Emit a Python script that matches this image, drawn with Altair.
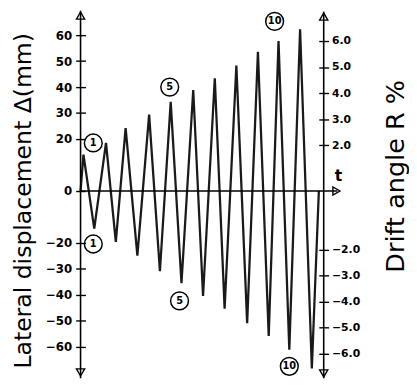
import altair as alt
import pandas as pd

# peaks of the loading history (time in half-cycle units, displacement in mm)
t_pos = [0.27, 2.36, 4.18, 6.36, 8.36, 10.45, 12.45, 14.45, 16.45, 18.36, 20.36]
d_pos = [14.0, 18.5, 24.2, 29.4, 34.3, 38.9, 43.4, 48.3, 53.6, 57.7, 62.3]
t_neg = [1.27, 3.27, 5.27, 7.36, 9.36, 11.36, 13.36, 15.45, 17.45, 19.36, 21.45]
d_neg = [-14.5, -19.6, -24.9, -30.9, -35.5, -40.4, -45.3, -50.9, -55.8, -61.1, -68.3]
t_start, t_end = 0.0, 22.1

left_ticks = [60, 50, 40, 30, 20, 0, -20, -30, -40, -50, -60]
right_ticks = [6.0, 5.0, 4.0, 3.0, 2.0, -2.0, -3.0, -4.0, -5.0, -6.0]

# cycle labels (circled numbers)
lab_text = ["1", "1", "5", "5", "10", "10"]
lab_t = [1.18, 1.18, 8.27, 9.18, 18.0, 19.36]
lab_d = [18.5, -20.4, 40.0, -42.3, 65.3, -67.5]

rows = [{"t": t_start, "d": 0.0, "o": 0}]
o = 1
for tp, dp, tn, dn in zip(t_pos, d_pos, t_neg, d_neg):
    rows.append({"t": tp, "d": dp, "o": o}); o += 1
    rows.append({"t": tn, "d": dn, "o": o}); o += 1
rows.append({"t": t_end, "d": 0.0, "o": o})
df = pd.DataFrame(rows)
df_lab = pd.DataFrame({"t": lab_t, "d": lab_d, "txt": lab_text})

W, H = 248, 368
FONT = "DejaVu Sans"
Y_DOM = [-70.6, 68.3]
xs = alt.Scale(domain=[0, 22.55], nice=False, zero=False)
ys = alt.Scale(domain=Y_DOM, nice=False, zero=False)

line = alt.Chart(df).mark_line(color="#1a1a1a", strokeWidth=2.3).encode(
    x=alt.X("t:Q", scale=xs, axis=None),
    y=alt.Y("d:Q", scale=ys, axis=None),
    order="o:Q",
)

base0 = alt.Chart(pd.DataFrame({"d": [0.0]}))
hline = base0.mark_rule(color="black", strokeWidth=1.5).encode(
    x=alt.value(0), x2=alt.value(262), y=alt.Y("d:Q", scale=ys, axis=None))
harrow = base0.mark_point(shape="triangle-right", filled=False, size=70,
                          color="black", strokeWidth=1.4, opacity=1).encode(
    x=alt.value(261), y=alt.Y("d:Q", scale=ys, axis=None))

circles = alt.Chart(df_lab).mark_point(shape="circle", filled=False, size=330,
                                       color="black", strokeWidth=1.5, opacity=1).encode(
    x=alt.X("t:Q", scale=xs, axis=None), y=alt.Y("d:Q", scale=ys, axis=None))
circ_txt = alt.Chart(df_lab).mark_text(font=FONT, fontWeight="bold", fontSize=10,
                                       color="black").encode(
    x=alt.X("t:Q", scale=xs, axis=None), y=alt.Y("d:Q", scale=ys, axis=None),
    text="txt:N")

one = alt.Chart(pd.DataFrame({"a": [0]}))
vl = one.mark_rule(color="black", strokeWidth=1.6).encode(
    x=alt.value(0), y=alt.value(-3), y2=alt.value(372))
vr = one.mark_rule(color="black", strokeWidth=1.6).encode(
    x=alt.value(W), y=alt.value(-2), y2=alt.value(372))
arrows = [
    one.mark_point(shape="triangle-up", filled=False, size=70, color="black",
                   strokeWidth=1.4, opacity=1).encode(x=alt.value(0), y=alt.value(2)),
    one.mark_point(shape="triangle-down", filled=False, size=70, color="black",
                   strokeWidth=1.4, opacity=1).encode(x=alt.value(0), y=alt.value(366)),
    one.mark_point(shape="triangle-up", filled=False, size=70, color="black",
                   strokeWidth=1.4, opacity=1).encode(x=alt.value(W), y=alt.value(3)),
    one.mark_point(shape="triangle-down", filled=False, size=70, color="black",
                   strokeWidth=1.4, opacity=1).encode(x=alt.value(W), y=alt.value(367)),
]
t_label = one.mark_text(text="t", font=FONT, fontWeight="bold", fontSize=16,
                        color="black").encode(x=alt.value(263), y=alt.value(166))
left_title = one.mark_text(text="Lateral displacement Δ(mm)", font=FONT, fontSize=24,
                           angle=270, align="center", baseline="middle",
                           color="black").encode(x=alt.value(-58), y=alt.value(191))
right_title = one.mark_text(text="Drift angle R %", font=FONT, fontSize=26,
                            angle=270, align="center", baseline="middle",
                            color="black").encode(x=alt.value(322), y=alt.value(166))

content = alt.layer(line, hline, harrow, circles, circ_txt, vl, vr, *arrows,
                    t_label, left_title, right_title)

left_axis_layer = alt.Chart(pd.DataFrame({"D": left_ticks})).mark_point(opacity=0).encode(
    y=alt.Y("D:Q", scale=alt.Scale(domain=Y_DOM, nice=False, zero=False),
            axis=alt.Axis(values=left_ticks, orient="left", domain=False, grid=False,
                          tickSize=10, offset=-5, tickColor="black", tickWidth=1.4,
                          labelFont=FONT, labelFontWeight="bold", labelFontSize=12,
                          labelColor="black", labelPadding=4, labelOverlap=False,
                          title=None)),
    x=alt.value(0),
)

right_axis_layer = alt.Chart(pd.DataFrame({"R": right_ticks})).mark_point(opacity=0).encode(
    y=alt.Y("R:Q", scale=alt.Scale(domain=[-6.79, 7.05], nice=False, zero=False),
            axis=alt.Axis(values=right_ticks, orient="right", format=".1f", domain=False,
                          grid=False, tickSize=10, offset=-5, tickColor="black",
                          tickWidth=1.4, labelFont=FONT, labelFontWeight="bold",
                          labelFontSize=11, labelColor="black", labelPadding=3,
                          labelOverlap=False, title=None)),
    x=alt.value(W),
)

chart = alt.layer(content, left_axis_layer, right_axis_layer).resolve_scale(
    y="independent"
).properties(
    width=W, height=H,
    background="white",
    autosize=alt.AutoSizeParams(type="none"),
    padding={"left": 74, "top": 2, "right": 87, "bottom": 1},
).configure_view(strokeWidth=0, stroke="transparent")

chart.save("out.html", embed_options={"renderer": "svg", "actions": False})
